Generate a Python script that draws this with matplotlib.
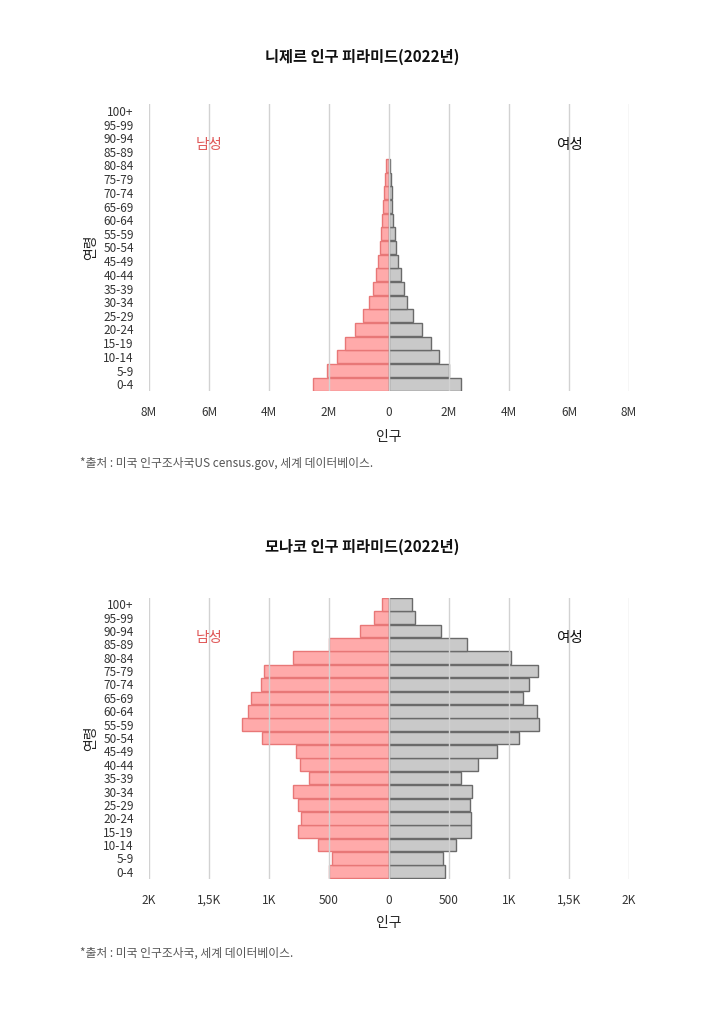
import matplotlib
matplotlib.use('Agg')
import matplotlib.pyplot as plt
import numpy as np

plt.rcParams['font.family'] = ['Noto Sans CJK KR', 'DejaVu Sans']

# age groups, youngest first
ages = ['0-4', '5-9', '10-14', '15-19', '20-24', '25-29', '30-34', '35-39',
        '40-44', '45-49', '50-54', '55-59', '60-64', '65-69', '70-74', '75-79',
        '80-84', '85-89', '90-94', '95-99', '100+']

# Niger 2022 (people)
niger_male = [2550000, 2070000, 1750000, 1460000, 1150000, 860000, 670000, 550000,
              450000, 380000, 310000, 280000, 220000, 190000, 170000, 130000,
              100000, 0, 0, 0, 0]
niger_female = [2390000, 1990000, 1670000, 1410000, 1090000, 800000, 600000, 490000,
                390000, 300000, 230000, 200000, 130000, 110000, 90000, 60000,
                40000, 0, 0, 0, 0]

# Monaco 2022 (people)
monaco_male = [500, 478, 589, 756, 731, 756, 803, 670, 739, 778, 1056, 1228,
               1172, 1150, 1070, 1045, 803, 497, 245, 125, 56]
monaco_female = [464, 447, 558, 683, 683, 672, 692, 597, 739, 900, 1086, 1250,
                 1231, 1117, 1164, 1239, 1017, 653, 431, 217, 195]

niger_ticks = [-8e6, -6e6, -4e6, -2e6, 0, 2e6, 4e6, 6e6, 8e6]
niger_tick_labels = ['8M', '6M', '4M', '2M', '0', '2M', '4M', '6M', '8M']
monaco_ticks = [-2000, -1500, -1000, -500, 0, 500, 1000, 1500, 2000]
monaco_tick_labels = ['2K', '1,5K', '1K', '500', '0', '500', '1K', '1,5K', '2K']

W, H = 721, 1024
fig = plt.figure(figsize=(W / 100, H / 100), dpi=100)


def pyramid(top_px, bottom_px, male, female, ticks, tick_labels, title, title_y, src, src_y):
    ax = fig.add_axes([149 / W, 1 - bottom_px / H, 480 / W, (bottom_px - top_px) / H])
    y = np.arange(len(ages))
    # no outline for empty groups
    ax.barh(y, [-v for v in male], height=0.95, color='#ffaaaa', edgecolor='#e87777',
            linewidth=[1 if v else 0 for v in male], zorder=2)
    ax.barh(y, female, height=0.95, color='#c9c9c9', edgecolor='#6a6a6a',
            linewidth=[1 if v else 0 for v in female], zorder=2)
    for t in ticks:
        ax.axvline(t, color='#d2d2d2', linewidth=1, zorder=3)
    ax.set_xlim(ticks[0], ticks[-1])
    ax.set_ylim(-0.5, len(ages) - 0.5)
    ax.set_xticks(ticks)
    ax.set_xticklabels(tick_labels)
    ax.set_yticks(y)
    ax.set_yticklabels(ages)
    ax.tick_params(axis='both', length=0, labelsize=8.5, labelcolor='#333333')
    ax.tick_params(axis='x', pad=11)
    ax.tick_params(axis='y', pad=11)
    for s in ax.spines.values():
        s.set_visible(False)
    ax.set_xlabel('인구', fontsize=10, color='#222222')
    ax.xaxis.set_label_coords(0.5, -0.135)
    ax.set_ylabel('연령', fontsize=10, color='#222222')
    ax.yaxis.set_label_coords(-0.105, 0.5)
    ax.text(ticks[1], 17.5, '남성', color='#e05a5a', fontsize=10.5, ha='center', va='center')
    ax.text(ticks[-2], 17.5, '여성', color='#111111', fontsize=10.5, ha='center', va='center')
    fig.text(362 / W, 1 - title_y / H, title, fontsize=11, fontweight='bold',
             ha='center', va='center', color='#111111')
    fig.text(80 / W, 1 - src_y / H, src, fontsize=8.5, ha='left', va='center', color='#555555')
    return ax


pyramid(104, 391, niger_male, niger_female, niger_ticks, niger_tick_labels,
        '니제르 인구 피라미드(2022년)', 57,
        '*출처 : 미국 인구조사국US census.gov, 세계 데이터베이스.', 464)
pyramid(597.5, 878.5, monaco_male, monaco_female, monaco_ticks, monaco_tick_labels,
        '모나코 인구 피라미드(2022년)', 547,
        '*출처 : 미국 인구조사국, 세계 데이터베이스.', 953)

fig.savefig('out.png', dpi=100)
